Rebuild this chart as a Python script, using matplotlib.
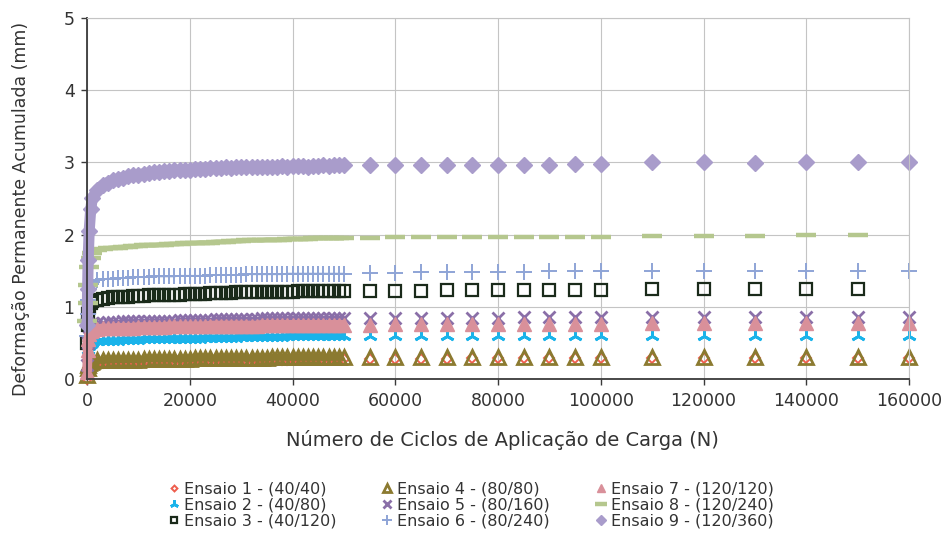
import matplotlib.pyplot as plt

plt.rcParams['font.family'] = ['DejaVu Sans']

# load cycles: dense readings up to 50000, then sparse readings
N_CYCLES = [0, 100, 200, 400, 700,
            1000, 2000, 3000, 4000, 5000, 6000, 7000, 8000, 9000, 10000,
            11000, 12000, 13000, 14000, 15000, 16000, 17000, 18000, 19000, 20000,
            21000, 22000, 23000, 24000, 25000, 26000, 27000, 28000, 29000, 30000,
            31000, 32000, 33000, 34000, 35000, 36000, 37000, 38000, 39000, 40000,
            41000, 42000, 43000, 44000, 45000, 46000, 47000, 48000, 49000, 50000,
            55000, 60000, 65000, 70000, 75000, 80000, 85000, 90000, 95000, 100000,
            110000, 120000, 130000, 140000, 150000, 160000]

ENSAIO_1 = [0.00, 0.10, 0.15, 0.18, 0.20,
            0.21, 0.22, 0.22, 0.23, 0.23, 0.23, 0.23, 0.24, 0.24, 0.24,
            0.24, 0.24, 0.25, 0.25, 0.25, 0.25, 0.25, 0.25, 0.25, 0.26,
            0.26, 0.26, 0.26, 0.26, 0.26, 0.26, 0.26, 0.26, 0.27, 0.27,
            0.27, 0.27, 0.27, 0.27, 0.27, 0.27, 0.27, 0.27, 0.27, 0.28,
            0.28, 0.28, 0.28, 0.28, 0.28, 0.28, 0.28, 0.28, 0.28, 0.28,
            0.28, 0.28, 0.28, 0.28, 0.29, 0.29, 0.29, 0.29, 0.29, 0.29,
            0.29, 0.29, 0.29, 0.29, 0.29, 0.29]

ENSAIO_2 = [0.10, 0.30, 0.40, 0.46, 0.49,
            0.50, 0.52, 0.52, 0.53, 0.53, 0.53, 0.54, 0.54, 0.54, 0.54,
            0.55, 0.55, 0.55, 0.55, 0.55, 0.56, 0.56, 0.56, 0.56, 0.56,
            0.56, 0.56, 0.57, 0.57, 0.57, 0.57, 0.57, 0.57, 0.57, 0.58,
            0.58, 0.58, 0.58, 0.58, 0.58, 0.58, 0.58, 0.58, 0.59, 0.59,
            0.59, 0.59, 0.59, 0.59, 0.59, 0.59, 0.59, 0.59, 0.59, 0.59,
            0.59, 0.59, 0.59, 0.59, 0.60, 0.60, 0.60, 0.60, 0.60, 0.60,
            0.60, 0.60, 0.60, 0.60, 0.60, 0.60]

ENSAIO_3 = [0.50, 0.75, 0.90, 1.00, 1.05,
            1.08, 1.10, 1.11, 1.12, 1.13, 1.13, 1.14, 1.14, 1.15, 1.15,
            1.15, 1.16, 1.16, 1.16, 1.17, 1.17, 1.17, 1.17, 1.18, 1.18,
            1.18, 1.18, 1.18, 1.19, 1.19, 1.19, 1.19, 1.19, 1.20, 1.20,
            1.20, 1.20, 1.20, 1.20, 1.21, 1.21, 1.21, 1.21, 1.21, 1.21,
            1.22, 1.22, 1.22, 1.22, 1.22, 1.22, 1.22, 1.22, 1.22, 1.22,
            1.22, 1.22, 1.22, 1.23, 1.23, 1.23, 1.23, 1.23, 1.23, 1.23,
            1.24, 1.24, 1.24, 1.24, 1.24]

ENSAIO_4 = [0.05, 0.15, 0.19, 0.22, 0.24,
            0.25, 0.26, 0.26, 0.26, 0.27, 0.27, 0.27, 0.27, 0.27, 0.27,
            0.28, 0.28, 0.28, 0.28, 0.28, 0.28, 0.28, 0.28, 0.28, 0.28,
            0.29, 0.29, 0.29, 0.29, 0.29, 0.29, 0.29, 0.29, 0.29, 0.29,
            0.29, 0.29, 0.29, 0.29, 0.29, 0.30, 0.30, 0.30, 0.30, 0.30,
            0.30, 0.30, 0.30, 0.30, 0.30, 0.30, 0.30, 0.30, 0.30, 0.30,
            0.30, 0.30, 0.30, 0.30, 0.30, 0.30, 0.30, 0.30, 0.30, 0.30,
            0.30, 0.31, 0.31, 0.31, 0.31, 0.31]

ENSAIO_5 = [0.20, 0.50, 0.65, 0.72, 0.75,
            0.77, 0.78, 0.78, 0.79, 0.79, 0.79, 0.80, 0.80, 0.80, 0.80,
            0.80, 0.81, 0.81, 0.81, 0.81, 0.81, 0.81, 0.82, 0.82, 0.82,
            0.82, 0.82, 0.82, 0.82, 0.83, 0.83, 0.83, 0.83, 0.83, 0.83,
            0.83, 0.83, 0.83, 0.84, 0.84, 0.84, 0.84, 0.84, 0.84, 0.84,
            0.84, 0.84, 0.84, 0.84, 0.84, 0.85, 0.85, 0.85, 0.85, 0.85,
            0.85, 0.85, 0.85, 0.85, 0.85, 0.85, 0.86, 0.86, 0.86, 0.86,
            0.86, 0.86, 0.86, 0.86, 0.86, 0.86]

ENSAIO_6 = [0.60, 0.90, 1.10, 1.25, 1.32,
            1.35, 1.37, 1.38, 1.39, 1.39, 1.40, 1.40, 1.40, 1.41, 1.41,
            1.41, 1.41, 1.42, 1.42, 1.42, 1.42, 1.42, 1.43, 1.43, 1.43,
            1.43, 1.43, 1.43, 1.44, 1.44, 1.44, 1.44, 1.44, 1.44, 1.44,
            1.45, 1.45, 1.45, 1.45, 1.45, 1.45, 1.45, 1.45, 1.46, 1.46,
            1.46, 1.46, 1.46, 1.46, 1.46, 1.46, 1.46, 1.46, 1.46, 1.46,
            1.47, 1.47, 1.48, 1.48, 1.48, 1.48, 1.48, 1.49, 1.49, 1.49,
            1.49, 1.49, 1.50, 1.50, 1.50, 1.50]

ENSAIO_7 = [0.10, 0.40, 0.55, 0.62, 0.66,
            0.68, 0.69, 0.70, 0.70, 0.70, 0.71, 0.71, 0.71, 0.71, 0.72,
            0.72, 0.72, 0.72, 0.72, 0.72, 0.73, 0.73, 0.73, 0.73, 0.73,
            0.73, 0.73, 0.73, 0.74, 0.74, 0.74, 0.74, 0.74, 0.74, 0.74,
            0.74, 0.74, 0.74, 0.75, 0.75, 0.75, 0.75, 0.75, 0.75, 0.75,
            0.75, 0.75, 0.75, 0.75, 0.75, 0.75, 0.75, 0.75, 0.75, 0.75,
            0.75, 0.76, 0.76, 0.76, 0.76, 0.76, 0.76, 0.76, 0.76, 0.76,
            0.77, 0.77, 0.77, 0.77, 0.77, 0.77]

ENSAIO_8 = [0.80, 1.05, 1.30, 1.55, 1.68,
            1.74, 1.79, 1.80, 1.81, 1.82, 1.82, 1.83, 1.83, 1.84, 1.84,
            1.85, 1.85, 1.85, 1.86, 1.86, 1.87, 1.87, 1.87, 1.88, 1.88,
            1.88, 1.89, 1.89, 1.89, 1.90, 1.90, 1.90, 1.91, 1.91, 1.91,
            1.92, 1.92, 1.92, 1.92, 1.93, 1.93, 1.93, 1.93, 1.94, 1.94,
            1.94, 1.94, 1.94, 1.95, 1.95, 1.95, 1.95, 1.95, 1.95, 1.95,
            1.95, 1.96, 1.96, 1.96, 1.96, 1.97, 1.97, 1.97, 1.97, 1.97,
            1.98, 1.98, 1.98, 2.00, 2.00]

ENSAIO_9 = [0.75, 1.25, 1.65, 2.05, 2.35,
            2.50, 2.62, 2.68, 2.72, 2.75, 2.77, 2.79, 2.81, 2.82, 2.83,
            2.84, 2.85, 2.86, 2.87, 2.88, 2.88, 2.89, 2.89, 2.90, 2.90,
            2.91, 2.91, 2.91, 2.92, 2.92, 2.92, 2.93, 2.92, 2.93, 2.93,
            2.93, 2.93, 2.94, 2.93, 2.94, 2.94, 2.94, 2.95, 2.94, 2.95,
            2.95, 2.95, 2.94, 2.95, 2.95, 2.96, 2.95, 2.96, 2.96, 2.96,
            2.96, 2.96, 2.96, 2.97, 2.97, 2.97, 2.97, 2.97, 2.98, 2.98,
            3.00, 3.00, 2.99, 3.01, 3.00, 3.01]

LABELS = ['Ensaio 1 - (40/40)', 'Ensaio 2 - (40/80)', 'Ensaio 3 - (40/120)',
          'Ensaio 4 - (80/80)', 'Ensaio 5 - (80/160)', 'Ensaio 6 - (80/240)',
          'Ensaio 7 - (120/120)', 'Ensaio 8 - (120/240)', 'Ensaio 9 - (120/360)']

COLORS = ['#EE5E4E', '#1AB3EA', '#1A2A1A', '#8B7A30', '#8A6FA8',
          '#8EA4D6', '#D9909A', '#B5C78E', '#A99CCB']

STYLES = [
    dict(marker='D', ms=5, mfc='none', mew=1.4),
    dict(marker=(3, 2, 0), ms=10, mew=2.0),
    dict(marker='s', ms=8, mfc='none', mew=1.6),
    dict(marker='^', ms=10, mfc='none', mew=2.0),
    dict(marker='x', ms=9, mew=2.0),
    dict(marker='+', ms=12, mew=1.4),
    dict(marker='^', ms=10),
    dict(marker='_', ms=14, mew=3.2),
    dict(marker='D', ms=8),
]

# width of the packed band where readings overlap (N <= 50000)
BAND_LW = [1.5, 5, 0, 5, 2.5, 1.2, 7, 3.2, 8]

SERIES = [ENSAIO_1, ENSAIO_2, ENSAIO_3, ENSAIO_4, ENSAIO_5,
          ENSAIO_6, ENSAIO_7, ENSAIO_8, ENSAIO_9]

n_dense = N_CYCLES.index(50000) + 1

fig, ax = plt.subplots(figsize=(9.47, 5.43), dpi=100)
fig.subplots_adjust(left=0.092, right=0.96, bottom=0.302, top=0.967)

for vals, lab, col, st, blw in zip(SERIES, LABELS, COLORS, STYLES, BAND_LW):
    if blw > 0:
        ax.plot(N_CYCLES[:n_dense], vals[:n_dense], '-', color=col, lw=blw,
                solid_capstyle='butt', clip_on=False)
    ax.plot(N_CYCLES[:len(vals)], vals, linestyle='none', label=lab,
            color=col, mec=col, clip_on=False, **st)

ax.set_xlim(0, 160000)
ax.set_ylim(0, 5)
ax.set_xticks(range(0, 160001, 20000))
ax.set_yticks(range(0, 6))
ax.grid(color='#C4C4C4', lw=0.8)
ax.set_axisbelow(True)

for side in ['left', 'bottom']:
    ax.spines[side].set_color('#3A3A3A')
    ax.spines[side].set_linewidth(1.3)
for side in ['top', 'right']:
    ax.spines[side].set_color('#C4C4C4')
    ax.spines[side].set_linewidth(0.8)

ax.tick_params(length=4, width=1, color='#3A3A3A', labelsize=12.5,
               labelcolor='#333333', pad=5)

ax.set_xlabel('Número de Ciclos de Aplicação de Carga (N)', fontsize=14,
              color='#333333')
ax.xaxis.set_label_coords(0.505, -0.14)
ax.set_ylabel('Deformação Permanente Acumulada (mm)', fontsize=12.5,
              color='#333333')
ax.yaxis.set_label_coords(-0.07, 0.47)

fig.legend(ncol=3, loc='center', bbox_to_anchor=(0.497, 0.07), frameon=False,
           fontsize=11.5, handlelength=0.8, handletextpad=0.2, columnspacing=2.8,
           labelspacing=0.05, markerscale=0.6, labelcolor='#333333')

plt.savefig('out.png', dpi=100)
